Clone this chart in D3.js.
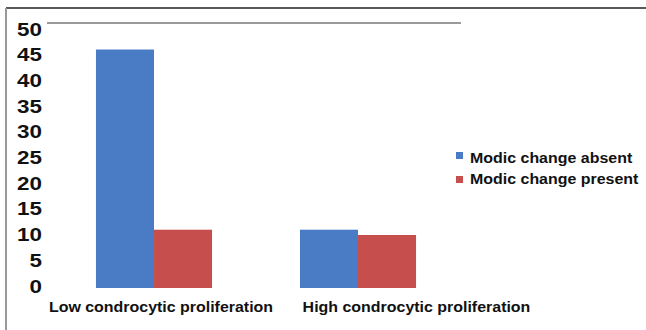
<!DOCTYPE html>
<html>
<head>
<meta charset="utf-8">
<script src="https://cdn.jsdelivr.net/npm/d3@7"></script>
<style>
  body { margin: 0; background: #fff; }
  text { font-family: "Liberation Sans", Arial, sans-serif; font-weight: bold; fill: #111; }
</style>
</head>
<body>
<div id="chart"></div>
<script>
const categories = ["Low condrocytic proliferation", "High condrocytic proliferation"];
const series = ["Modic change absent", "Modic change present"];
const absent = [45, 11];
const present = [11, 10];
const yTicks = [0, 5, 10, 15, 20, 25, 30, 35, 40, 45, 50];
const colors = ["#4a7cc5", "#c64f4e"];

const width = 646, height = 330;
const svg = d3.select("#chart").append("svg")
  .attr("width", width)
  .attr("height", height);

// the source picture is a bit wider than tall, so stretch the text to match
function stretch(sel, k) {
  sel.each(function () {
    const w = this.getComputedTextLength();
    d3.select(this).attr("textLength", w * k).attr("lengthAdjust", "spacingAndGlyphs");
  });
}

// frame
svg.append("line").attr("x1", 6).attr("x2", width).attr("y1", 8).attr("y2", 8)
  .attr("stroke", "#222").attr("stroke-width", 1.5);
svg.append("line").attr("x1", 6).attr("x2", 6).attr("y1", 8).attr("y2", height)
  .attr("stroke", "#999").attr("stroke-width", 2);

const x = d3.scaleBand().domain(categories).range([52, 460])
  .paddingInner(0.431).paddingOuter(0.2155);
const xs = d3.scaleBand().domain(series).range([0, x.bandwidth()]);
const xLabel = d3.scalePoint().domain(categories).range([161, 416.5]);
const y = d3.scaleLinear().domain([0, 50]).range([288, 23]);
const yLabel = d3.scaleLinear().domain([0, 50]).range([286, 29]);

// top gridline
svg.append("line").attr("x1", 47).attr("x2", 461).attr("y1", y(50)).attr("y2", y(50))
  .attr("stroke", "#9a9a9a").attr("stroke-width", 2);

// y labels
svg.append("g").selectAll("text").data(yTicks).join("text")
  .attr("x", 42).attr("y", d => yLabel(d))
  .attr("text-anchor", "end").attr("dominant-baseline", "central")
  .style("font-size", "19px")
  .text(d => d)
  .call(stretch, 1.18);

const rows = categories.map((c, i) => ({ cat: c, values: [absent[i], present[i]] }));

const groups = svg.append("g").selectAll("g").data(rows).join("g")
  .attr("transform", d => `translate(${x(d.cat)},0)`);

groups.selectAll("rect").data(d => d.values.map((v, j) => ({ s: series[j], v, j })))
  .join("rect")
  .attr("x", d => xs(d.s))
  .attr("width", xs.bandwidth())
  .attr("y", d => y(d.v))
  .attr("height", d => y(0) - y(d.v))
  .attr("fill", d => colors[d.j]);

// category labels
svg.append("g").selectAll("text").data(categories).join("text")
  .attr("x", d => xLabel(d))
  .attr("y", 307)
  .attr("text-anchor", "middle").attr("dominant-baseline", "central")
  .style("font-size", "14.5px")
  .text(d => d)
  .call(stretch, 1.1);

// legend
const legend = svg.append("g").selectAll("g").data(series).join("g")
  .attr("transform", (d, i) => `translate(456,${158 + i * 21})`);
legend.append("rect").attr("x", 0).attr("y", (d, i) => i === 0 ? -6 : -3)
  .attr("width", 7).attr("height", 7)
  .attr("fill", (d, i) => colors[i]);
legend.append("text").attr("x", 14).attr("y", 0)
  .attr("dominant-baseline", "central")
  .style("font-size", "14.5px")
  .text(d => d)
  .call(stretch, 1.1);
</script>
</body>
</html>
